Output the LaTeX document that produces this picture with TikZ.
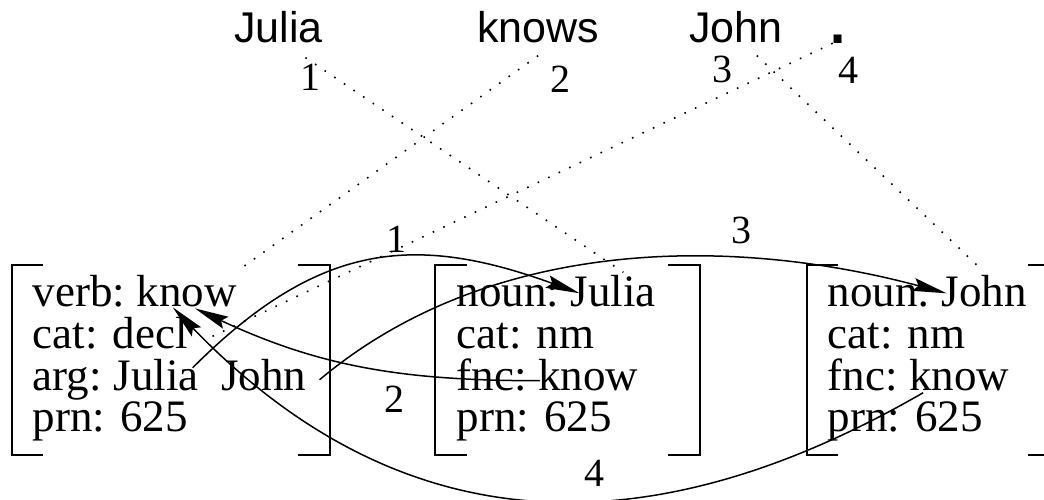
\documentclass[tikz,border=0pt]{standalone}
\usepackage{fontspec}
\setmainfont{Liberation Serif}
\setsansfont{Liberation Sans}
\newfontfamily\dotfont{DejaVu Sans}
\usetikzlibrary{arrows.meta}

\begin{document}
\begin{tikzpicture}[x=1pt,y=1pt,>={Stealth[length=34pt,width=13pt,inset=5pt]},
  field node/.style={inner sep=0pt,anchor=base west,font=\fontsize{45}{42}\selectfont},
  word node/.style={inner sep=0pt,anchor=base west,font=\sffamily\fontsize{43}{43}\selectfont},
  num node/.style={inner sep=0pt,font=\fontsize{40}{40}\selectfont},
  bracket/.style={line width=1.4pt},
  link/.style={line width=1.6pt,dash pattern=on 1.6pt off 10pt}]

  \useasboundingbox (0,0) rectangle (1044,-499);
  \clip (0,0) rectangle (1044,-499);

  % surface words and their positions
  \node[word node] (wjulia) at (234,-42) {Julia};
  \node[word node] (wknows) at (477,-42) {knows};
  \node[word node] (wjohn) at (689,-42) {John};
  \node[word node,font=\dotfont\bfseries\fontsize{45}{45}\selectfont] (wdot) at (829,-43) {.};

  \node[num node,anchor=base] (n1) at (310,-90) {1};
  \node[num node,anchor=base] (n2) at (560,-92) {2};
  \node[num node,anchor=base] (n3) at (722,-82) {3};
  \node[num node,anchor=base] (n4) at (848,-83) {4};

  % proplet of know
  \node[field node] (lverb) at (32.5,-306.7) {verb:};
  \node[field node] (lknow) at ([xshift=11.25pt]lverb.base east) {know};
  \node[field node] (lcat) at ([yshift=-41.7pt]lverb.base west) {cat: decl};
  \node[field node] (larg) at ([yshift=-41.7pt]lcat.base west) {arg:};
  \node[field node] (argjulia) at ([xshift=11.25pt]larg.base east) {Julia};
  \node[field node] (argjohn) at ([xshift=22.5pt]argjulia.base east) {John};
  \node[field node] (lprn) at ([yshift=-41.7pt]larg.base west) {prn: 625};

  % proplet of Julia
  \node[field node] (mnoun) at (456.5,-306.7) {noun:};
  \node[field node] (mjulia) at ([xshift=11.25pt]mnoun.base east) {Julia};
  \node[field node] (mcat) at ([yshift=-41.7pt]mnoun.base west) {cat: nm};
  \node[field node] (mfnc) at ([yshift=-41.7pt]mcat.base west) {fnc:};
  \node[field node] (mknow) at ([xshift=11.25pt]mfnc.base east) {know};
  \node[field node] (mprn) at ([yshift=-41.7pt]mfnc.base west) {prn: 625};

  % proplet of John
  \node[field node] (rnoun) at (827.5,-306.7) {noun:};
  \node[field node] (rjohn) at ([xshift=11.25pt]rnoun.base east) {John};
  \node[field node] (rcat) at ([yshift=-41.7pt]rnoun.base west) {cat: nm};
  \node[field node] (rfnc) at ([yshift=-41.7pt]rcat.base west) {fnc:};
  \node[field node] (rknow) at ([xshift=11.25pt]rfnc.base east) {know};
  \node[field node] (rprn) at ([yshift=-41.7pt]rfnc.base west) {prn: 625};

  % brackets
  \draw[bracket] (43,-265) -| (12,-455) -- (43,-455);
  \draw[bracket] (298,-265) -| (330,-455) -- (298,-455);
  \draw[bracket] (467,-265) -| (435,-455) -- (467,-455);
  \draw[bracket] (668,-265) -| (700,-455) -- (668,-455);
  \draw[bracket] (838,-265) -| (807,-455) -- (838,-455);
  \draw[bracket] (1028,-265) -| (1060,-455) -- (1028,-455);

  % word to proplet
  \draw[link] ([xshift=27pt,yshift=-15pt]wjulia.south) -- ([xshift=10pt,yshift=3pt]mjulia.north);
  \draw[link] ([yshift=-13pt]wknows.south) -- ([yshift=4pt]lknow.north east);
  \draw[link] ([xshift=21pt,yshift=-13pt]wjohn.south) -- ([xshift=-1pt,yshift=4pt]rjohn.north);
  \draw[link] ([xshift=-5pt]wdot.south) -- ([xshift=23pt,yshift=-4pt]lcat.east);

  \path[->,line width=1.5pt,every node/.style={num node}]
    ([xshift=-6pt,yshift=7pt]argjulia.east) edge [out=45,in=160,looseness=1.15] node [pos=0.57,above=5pt] {1} ([xshift=9pt,yshift=-2pt]mjulia.west)
    ([xshift=2pt,yshift=-6pt]mknow.west) edge [out=180,in=-25] node [pos=0.4,below=13pt] {2} ([xshift=8pt,yshift=-1pt]lknow.south)
    ([xshift=13pt,yshift=-5pt]argjohn.east) edge [out=40,in=165,looseness=0.9] node [pos=0.69,above=14pt] {3} ([xshift=5pt,yshift=-2pt]rjohn.west)
    ([xshift=14pt,yshift=-2pt]rknow.south west) edge [out=210,in=-46,looseness=1.1] node [pos=0.41,above=13pt] {4} ([xshift=-14pt]lknow.south);

\end{tikzpicture}
\end{document}
